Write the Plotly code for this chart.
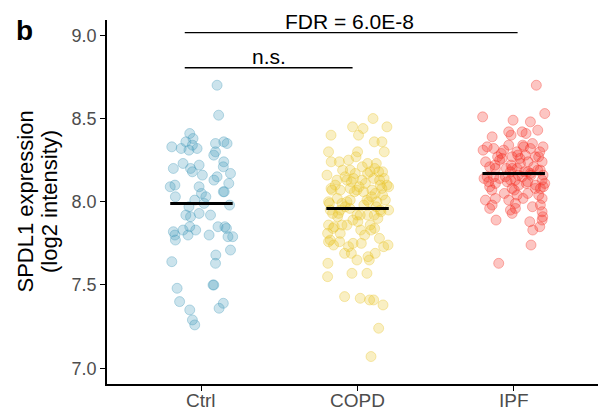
import plotly.graph_objects as go

categories = ["Ctrl", "COPD", "IPF"]
colors = ["rgba(70,155,185,{a})", "rgba(232,196,40,{a})", "rgba(245,45,35,{a})"]

ctrl_y = [8.70, 8.52, 8.41, 8.36, 8.38, 8.33, 8.32, 8.31, 8.32, 8.34, 8.35, 8.36, 8.35, 8.30, 8.28,
          8.20, 8.23, 8.20, 8.18, 8.22, 8.16, 8.24, 8.21, 8.17, 8.13, 8.15, 8.11, 8.09, 8.10, 8.03,
          8.09, 8.05, 8.03, 8.01, 7.99, 8.06, 8.06, 7.98, 7.97, 7.92, 7.91, 7.93, 7.92, 7.82, 7.80,
          7.77, 7.83, 7.80, 7.85, 7.83, 7.80, 7.85, 7.85, 7.84, 7.79, 7.79, 7.71, 7.64, 7.68, 7.63,
          7.50, 7.50, 7.48, 7.40, 7.35, 7.39, 7.36, 7.29, 7.26]
ctrl_jit = [0.10, 0.11, -0.075, -0.10, -0.054, -0.19, -0.13, -0.08, -0.028, -0.058, 0.09, 0.143, 0.164, 0.09, 0.079,
            -0.18, -0.118, -0.07, -0.058, -0.015, 0.006, 0.143, 0.14, 0.186, 0.08, 0.10, 0.175, -0.20, -0.17, -0.167,
            -0.015, 0.0, 0.028, -0.043, 0.017, 0.14, 0.146, 0.18, -0.08, -0.10, -0.07, -0.015, 0.058, -0.18, -0.17,
            -0.167, -0.118, -0.086, -0.075, -0.037, 0.049, 0.106, 0.15, 0.16, 0.20, 0.17, 0.186, -0.19, 0.092, 0.09,
            0.079, 0.074, -0.156, -0.14, -0.075, 0.14, 0.113, -0.058, -0.043]

copd_y = [8.50, 8.45, 8.44, 8.45, 8.40, 8.40, 8.36, 8.36, 8.30, 8.30, 8.30, 8.24, 8.24, 8.25, 8.23,
          8.23, 8.19, 8.19, 8.17, 8.18, 8.18, 8.17, 8.16, 8.13, 8.10, 8.13, 8.14, 8.13, 8.14, 8.13,
          8.10, 8.10, 8.09, 8.08, 8.07, 8.08, 8.07, 8.06, 8.07, 8.05, 8.08, 8.07, 8.00, 7.99, 8.00,
          8.01, 8.00, 8.00, 8.01, 7.95, 7.95, 7.93, 7.91, 7.97, 7.92, 7.92, 7.92, 7.92, 7.95, 7.86,
          7.85, 7.86, 7.86, 7.88, 7.86, 7.84, 7.81, 7.84, 7.81, 7.77, 7.74, 7.76, 7.80, 7.83, 7.76,
          7.75, 7.75, 7.69, 7.69, 7.73, 7.65, 7.67, 7.65, 7.69, 7.73, 7.74, 7.63, 7.55, 7.57, 7.57,
          7.43, 7.42, 7.41, 7.41, 7.38, 7.24, 7.07,
          8.21, 8.15, 8.11, 8.06, 8.03, 8.02, 7.98, 7.97, 7.96, 7.94, 7.93, 8.09, 8.12, 8.04, 7.89,
          7.90, 8.18, 7.99, 8.27, 8.20, 7.83, 7.78, 8.14, 8.01, 7.95]
copd_jit = [0.099, -0.032, 0.035, 0.188, 0.006, -0.17, 0.107, 0.156, -0.186, 0.0, 0.171, -0.169, -0.117, -0.058, 0.064,
            0.12, -0.096, -0.047, -0.015, 0.135, 0.16, 0.064, -0.196, -0.132, -0.143, -0.068, -0.026, 0.028, 0.103, 0.141,
            0.146, 0.188, 0.199, -0.17, -0.111, -0.047, -0.004, 0.038, 0.092, 0.113, 0.156, -0.164, -0.186, -0.10, -0.068,
            -0.047, 0.071, 0.124, 0.178, 0.199, -0.175, -0.122, -0.128, -0.079, -0.004, 0.017, 0.064, 0.107, 0.146, -0.186,
            -0.149, -0.10, -0.068, 0.002, 0.081, 0.109, -0.192, -0.158, -0.111, -0.175, -0.154, -0.115, 0.045, 0.086, -0.186,
            -0.029, 0.024, -0.083, -0.04, -0.058, -0.004, 0.067, 0.075, 0.113, 0.167, 0.195, -0.19, -0.192, -0.036, 0.06,
            -0.083, 0.017, 0.077, 0.103, 0.163, 0.135, 0.086,
            0.03, -0.08, 0.05, -0.02, 0.09, -0.13, 0.04, 0.12, -0.05, 0.15, -0.16, 0.01, -0.04, 0.16, -0.03,
            0.13, 0.08, -0.18, -0.01, 0.11, 0.02, 0.14, 0.17, 0.06, -0.11]

ipf_y = [8.70, 8.53, 8.51, 8.49, 8.48, 8.43, 8.39, 8.42, 8.40, 8.42, 8.41, 8.33, 8.31, 8.32, 8.31,
         8.34, 8.34, 8.33, 8.32, 8.30, 8.33, 8.27, 8.26, 8.27, 8.28, 8.28, 8.27, 8.24, 8.21, 8.20,
         8.25, 8.20, 8.22, 8.23, 8.24, 8.21, 8.19, 8.18, 8.20, 8.18, 8.17, 8.16, 8.15, 8.15, 8.14,
         8.15, 8.13, 8.15, 8.16, 8.13, 8.09, 8.12, 8.11, 8.12, 8.08, 8.10, 8.11, 8.08, 8.11, 8.07,
         8.04, 8.05, 8.04, 8.08, 8.01, 8.02, 7.98, 7.96, 8.01, 7.99, 7.95, 7.93, 7.96, 8.02, 7.98,
         7.94, 7.91, 7.89, 7.89, 7.88, 7.85, 7.83, 7.74, 7.63,
         8.22, 8.18, 8.26, 8.29, 8.13, 8.10, 8.05, 8.19, 8.24, 8.16, 8.12, 8.35, 8.02, 8.07, 8.27,
         8.20, 7.97, 8.14, 8.30, 8.09]
ipf_jit = [0.145, 0.199, -0.199, -0.004, 0.107, 0.154, -0.138, -0.032, -0.017, 0.054, 0.079, -0.17, -0.196, -0.128, -0.064,
           -0.032, 0.058, 0.064, 0.107, 0.167, 0.188, -0.103, -0.074, -0.01, 0.026, 0.075, 0.139, 0.182, -0.154, -0.117,
           -0.09, -0.047, -0.017, 0.043, 0.092, 0.128, 0.154, -0.021, 0.022, 0.069, 0.107, 0.188, -0.17, -0.128, -0.09,
           -0.053, 0.011, 0.054, 0.111, 0.182, -0.154, -0.16, -0.117, -0.042, -0.01, 0.032, 0.081, 0.139, 0.199, 0.004,
           0.022, 0.09, 0.16, 0.171, -0.181, -0.117, -0.138, -0.154, -0.032, 0.011, -0.021, -0.01, 0.011, 0.182, 0.171,
           0.182, 0.186, 0.182, -0.113, 0.103, 0.167, 0.122, 0.111, -0.096,
           -0.12, 0.09, 0.04, -0.08, -0.02, 0.14, -0.06, 0.17, -0.18, 0.03, 0.09, 0.12, 0.06, -0.14, 0.16,
           -0.01, 0.12, -0.19, 0.02, 0.19]

group_means = [7.99, 7.96, 8.17]
y_ticks = [7.0, 7.5, 8.0, 8.5, 9.0]
y_tick_labels = ["7.0", "7.5", "8.0", "8.5", "9.0"]
y_title_lines = ["SPDL1 expression", "(log2 intensity)"]

ys = [ctrl_y, copd_y, ipf_y]
jits = [ctrl_jit, copd_jit, ipf_jit]

W, H = 598, 410
ML, MR, MT, MB = 107, 0, 20, 26
pw, ph = W - ML - MR, H - MT - MB

fig = go.Figure()
for i, (yv, jv) in enumerate(zip(ys, jits)):
    fig.add_trace(go.Scatter(
        x=[i + j for j in jv], y=yv, mode="markers",
        marker=dict(size=10, color=colors[i].format(a=0.28),
                    line=dict(color=colors[i].format(a=0.35), width=1)),
        showlegend=False, hoverinfo="y"))

for i, m in enumerate(group_means):
    fig.add_trace(go.Scatter(x=[i - 0.2, i + 0.2], y=[m, m], mode="lines",
                             line=dict(color="black", width=3), showlegend=False))

# significance brackets
fig.add_shape(type="line", x0=-0.107, x1=2.025, y0=9.016, y1=9.016,
              line=dict(color="black", width=1.3))
fig.add_shape(type="line", x0=-0.107, x1=0.968, y0=8.805, y1=8.805,
              line=dict(color="black", width=1.3))
fig.add_annotation(x=0.95, y=9.016, text="FDR = 6.0E-8", showarrow=False, yanchor="bottom",
                   yshift=-2, font=dict(size=21, color="black"))
fig.add_annotation(x=0.435, y=8.805, text="n.s.", showarrow=False, yanchor="bottom",
                   yshift=-2, font=dict(size=21, color="black"))

# panel letter
fig.add_annotation(xref="paper", yref="paper", x=(24 - ML) / pw, y=(H - MB - 30) / ph,
                   text="<b>b</b>", showarrow=False, xanchor="center", yanchor="middle",
                   font=dict(size=28, color="black"))

# y-axis title as two tightly spaced rotated lines
for line_text, px in zip(y_title_lines, [24.5, 49]):
    fig.add_annotation(xref="paper", yref="paper", x=(px - ML) / pw, y=0.5,
                       text=line_text, textangle=-90, showarrow=False,
                       xanchor="center", yanchor="middle",
                       font=dict(size=22, color="black"))

# x tick labels
for i, cat in enumerate(categories):
    fig.add_annotation(x=i, xref="x", yref="paper", y=0, yanchor="top", yshift=-4,
                       text=cat, showarrow=False, font=dict(size=19, color="#4D4D4D"))

fig.update_layout(
    width=W, height=H,
    margin=dict(l=ML, r=MR, t=MT, b=MB, autoexpand=False),
    plot_bgcolor="white", paper_bgcolor="white",
    font=dict(family="Liberation Sans, Arial, sans-serif"),
    xaxis=dict(range=[-0.605, 2.54], tickvals=[0, 1, 2], ticktext=["", "", ""],
               showline=True, linecolor="black", linewidth=1.6, ticks="outside",
               ticklen=5, tickwidth=1.4, tickcolor="black", showgrid=False, zeroline=False,
               automargin=False),
    yaxis=dict(range=[6.905, 9.092], tickvals=y_ticks, ticktext=y_tick_labels,
               showline=True, linecolor="black", linewidth=1.6, ticks="outside",
               ticklen=5, tickwidth=1.4, tickcolor="black", showgrid=False, zeroline=False,
               automargin=False,
               tickfont=dict(size=18, color="#4D4D4D")),
)

fig.write_html("out.html", config={"displayModeBar": False},
               post_script="document.body.style.margin='0';document.body.style.overflow='hidden';")
